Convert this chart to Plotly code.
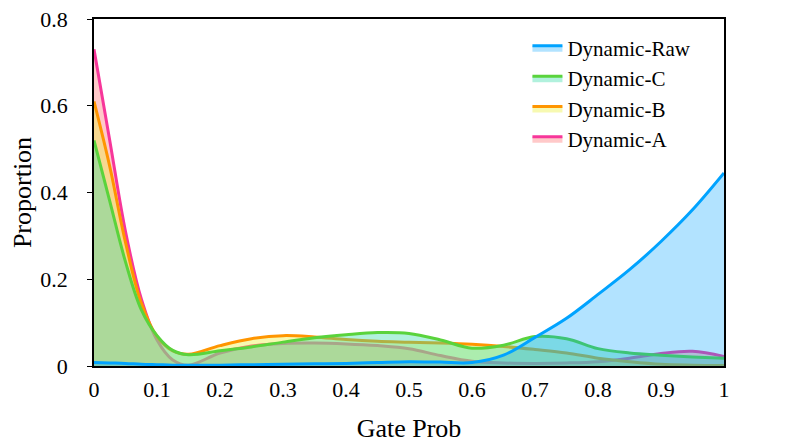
import plotly.graph_objects as go

# Gate probability grid (x) and proportion per model (y)
gate_prob = [0, 0.025, 0.05, 0.075, 0.1, 0.125, 0.15, 0.2, 0.25, 0.3, 0.35, 0.4,
             0.45, 0.5, 0.55, 0.6, 0.65, 0.7, 0.75, 0.8, 0.85, 0.9, 0.95, 1.0]

dyn_a = [0.73, 0.52, 0.31, 0.155, 0.06, 0.014, 0.002, 0.03, 0.046, 0.052, 0.053, 0.051,
         0.047, 0.040, 0.024, 0.011, 0.007, 0.006, 0.007, 0.010, 0.018, 0.029, 0.034, 0.022]
dyn_b = [0.61, 0.46, 0.285, 0.145, 0.068, 0.035, 0.027, 0.047, 0.063, 0.070, 0.067, 0.061,
         0.057, 0.055, 0.053, 0.050, 0.045, 0.038, 0.030, 0.018, 0.010, 0.004, 0.002, 0.001]
dyn_c = [0.52, 0.38, 0.24, 0.13, 0.07, 0.036, 0.026, 0.035, 0.044, 0.055, 0.065, 0.072,
         0.077, 0.075, 0.060, 0.041, 0.048, 0.068, 0.063, 0.040, 0.030, 0.025, 0.021, 0.018]
dyn_raw = [0.008, 0.007, 0.006, 0.004, 0.003, 0.002, 0.002, 0.002, 0.003, 0.004, 0.005, 0.006,
           0.008, 0.010, 0.009, 0.008, 0.025, 0.066, 0.11, 0.165, 0.222, 0.287, 0.36, 0.445]

series = [
  ("Dynamic-A", dyn_a, "#f7369a", "rgba(255,100,100,0.35)"),
  ("Dynamic-B", dyn_b, "#ff9500", "rgba(235,240,60,0.4)"),
  ("Dynamic-C", dyn_c, "#5ad33c", "rgba(60,220,170,0.4)"),
  ("Dynamic-Raw", dyn_raw, "#00a3ff", "rgba(0,162,255,0.3)"),
]

fig = go.Figure()
for name, vals, line_col, fill_col in series:
  fig.add_trace(go.Scatter(
    x=gate_prob, y=vals, name=name, mode="lines",
    line=dict(color=line_col, width=3, shape="spline", smoothing=1),
    fill="tozeroy", fillcolor=fill_col,
  ))

# page is offset ~8px by the body margin, so margins are shifted to match
font = "Liberation Serif, Times New Roman, serif"
fig.update_layout(
  width=789, height=443,
  margin=dict(l=86, r=73, t=11, b=85),
  paper_bgcolor="white", plot_bgcolor="white",
  font=dict(family=font, size=22, color="black"),
  legend=dict(x=0.688, y=0.975, xanchor="left", yanchor="top",
              traceorder="reversed", bgcolor="rgba(0,0,0,0)",
              font=dict(size=21), tracegroupgap=0),
)
fig.update_xaxes(
  range=[0, 1], dtick=0.1, showgrid=False, zeroline=False,
  showline=True, linecolor="black", linewidth=1.5, mirror=True,
  ticks="", ticklabelstandoff=3, automargin=False, ticklabeloverflow="allow",
  title_text="Gate Prob", title_standoff=18,
)
fig.update_yaxes(
  range=[0, 0.8], dtick=0.2, showgrid=False, zeroline=False,
  showline=True, linecolor="black", linewidth=1.5, mirror=True,
  ticks="outside", ticklen=5, tickcolor="black", ticklabelstandoff=15,
  automargin=False, ticklabeloverflow="allow",
  title_text="Proportion", title_standoff=18,
)

fig.write_html("out.html")
